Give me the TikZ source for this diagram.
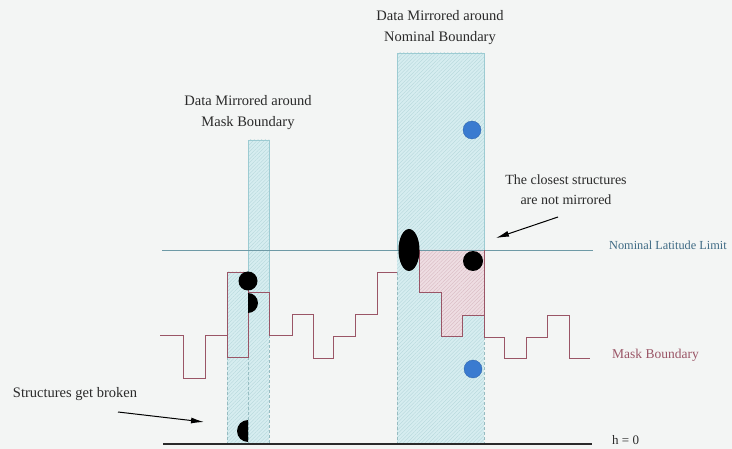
\documentclass[tikz,border=0pt]{standalone}
\usepackage{fontspec}
\setmainfont{Liberation Serif}
\usetikzlibrary{arrows.meta,patterns.meta,shapes.geometric}
\definecolor{bgc}{HTML}{F3F5F4}
\definecolor{mirrorc}{HTML}{D6EDF0}
\definecolor{hatchc}{HTML}{B4D6DA}
\definecolor{pinkc}{HTML}{EEDDE2}
\definecolor{pinkhatch}{HTML}{D6B8C0}
\definecolor{boxedge}{HTML}{9CCBD2}
\definecolor{maskc}{HTML}{9A5566}
\definecolor{nomc}{HTML}{6E9AA6}
\definecolor{nomtext}{HTML}{3E6A84}
\definecolor{bluedot}{HTML}{3A7BD0}
\definecolor{textc}{HTML}{2A2A2A}
\begin{document}
\begin{tikzpicture}[x=1pt,y=-1pt,
  mirror/.style={fill=mirrorc, postaction={pattern={Lines[angle=45,distance=2.6pt,line width=0.35pt]}, pattern color=hatchc}},
  pinkarea/.style={fill=pinkc, postaction={pattern={Lines[angle=45,distance=2.6pt,line width=0.35pt]}, pattern color=pinkhatch}},
  edge/.style={draw=boxedge, line width=0.6pt},
  dashedge/.style={draw=boxedge!80!gray, line width=0.6pt, dashed, dash pattern=on 3pt off 2pt},
  maskline/.style={draw=maskc, line width=0.7pt},
  nomline/.style={draw=nomc, line width=0.6pt},
  baseline/.style={draw=textc, line width=1.1pt},
  blackdot/.style={circle, fill=black, inner sep=0pt},
  bluedotst/.style={circle, fill=bluedot, draw=bluedot!80!black, line width=0.3pt, inner sep=0pt, minimum size=18pt},
  lbl/.style={font=\fontsize{14.5}{21}\selectfont, text=textc, align=center, inner sep=0pt},
  sidelbl/.style={font=\fontsize{13}{16}\selectfont, anchor=west, inner sep=0pt},
  pointer/.style={draw=black, line width=1pt, -{Latex[length=13pt,width=6pt]}}
]
\useasboundingbox (0,0) rectangle (732,449);
\fill[bgc] (0,0) rectangle (732,449);

% mirrored data regions
\path[mirror] (397,53) rectangle (484,444);
\path[mirror] (248,140) rectangle (269,444);
\path[mirror] (227,272) rectangle (248,444);

% closest structures region (not mirrored)
\path[pinkarea] (419,250) -- (419,292) -- (441,292) -- (441,336) -- (462,336) -- (462,315) -- (484,315) -- (484,250) -- cycle;

% box outlines
\draw[edge] (397,250) -- (397,53) -- (484,53) -- (484,250);
\draw[dashedge] (397,272) -- (397,444);
\draw[dashedge] (484,337) -- (484,444);
\draw[edge] (248,272) -- (248,140) -- (269,140) -- (269,292);
\draw[dashedge] (269,335) -- (269,444);
\draw[dashedge] (248,357) -- (248,444);
\draw[dashedge] (227,357) -- (227,444);

% nominal latitude limit
\draw[nomline] (162,250) -- (593,250);

% mask boundary
\draw[maskline] (160,335) -- (183,335) -- (183,378) -- (205,378) -- (205,335) -- (227,335);
\draw[maskline] (227,272) rectangle (248,357);
\draw[maskline] (248,357) -- (248,292) -- (269,292) -- (269,335) -- (292,335) -- (292,314) -- (313,314) -- (313,358) -- (333,358) -- (333,336) -- (355,336) -- (355,314) -- (377,314) -- (377,272) -- (397,272);
\draw[maskline] (419,250) -- (419,292) -- (441,292) -- (441,336) -- (462,336) -- (462,315) -- (484,315) -- (484,337) -- (504,337) -- (504,358) -- (526,358) -- (526,337) -- (547,337) -- (547,315) -- (569,315) -- (569,358) -- (590,358);
\draw[maskline] (484,250) -- (484,315);

% h = 0
\draw[baseline] (163,444) -- (592,444);

% structures
\node[blackdot, ellipse, minimum width=21pt, minimum height=42pt] (ell) at (409,250) {};
\node[blackdot, minimum size=20pt] (c1) at (473,261) {};
\node[blackdot, minimum size=19pt] (c2) at (248,281) {};
\begin{scope}
  \clip (248,290) rectangle (262,316);
  \fill[black] (248,303) circle (10);
\end{scope}
\begin{scope}
  \clip (234,418) rectangle (248,446);
  \fill[black] (248,431) circle (11);
\end{scope}
\node[bluedotst] (b1) at (472,130) {};
\node[bluedotst] (b2) at (473,369) {};

% labels
\node[lbl] (t1) at (440,28) {Data Mirrored around\\Nominal Boundary};
\node[lbl] (t2) at (248,113) {Data Mirrored around\\Mask Boundary};
\node[lbl, font=\fontsize{14}{20}\selectfont] (t3) at (566,190) {The closest structures\\are not mirrored};
\node[lbl] (t4) at (75,394) {Structures get broken};
\node[sidelbl, text=nomtext, font=\fontsize{12.3}{15}\selectfont] (s1) at (609,245) {Nominal Latitude Limit};
\node[sidelbl, text=maskc, font=\fontsize{13.5}{16}\selectfont] (s2) at (612,355) {Mask Boundary};
\node[sidelbl, text=textc] (s3) at (612,440) {h = 0};

% pointers
\coordinate (p1s) at (118,412);
\coordinate (p1e) at (204,422);
\coordinate (p2s) at (558,217);
\coordinate (p2e) at (496,238);
\draw[pointer] (p1s) -- (p1e);
\draw[pointer] (p2s) -- (p2e);
\end{tikzpicture}
\end{document}
